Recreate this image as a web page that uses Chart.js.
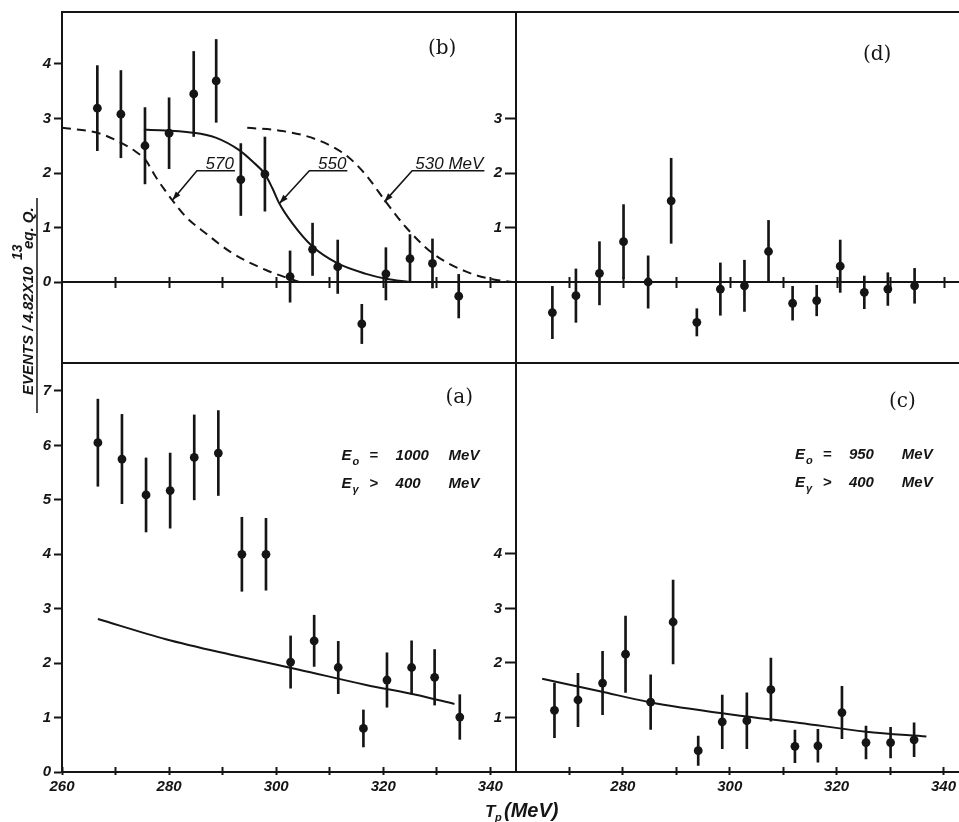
<!DOCTYPE html>
<html>
<head>
<meta charset="UTF-8">
<title>T_p spectra</title>
<script src="https://cdn.jsdelivr.net/npm/chart.js@4.4.4/dist/chart.umd.min.js"></script>
<style>
body { margin: 0; background: #fff; }
#wrap { position: relative; width: 959px; height: 822px; }
#wrap canvas { position: absolute; left: 0; top: 0; }
</style>
</head>
<body>
<div id="wrap">
  <canvas id="chartB" width="959" height="822"></canvas>
  <canvas id="chartD" width="959" height="822"></canvas>
  <canvas id="chartA" width="959" height="822"></canvas>
  <canvas id="chartC" width="959" height="822"></canvas>
</div>
<script>
// ---- data ----
// (b) top left
const tpB  = [266.6, 271.0, 275.5, 280.0, 284.6, 288.8, 293.4, 297.9, 302.6, 306.8, 311.5, 316.0, 320.5, 325.0, 329.2, 334.1];
const evB  = [3.19, 3.08, 2.50, 2.73, 3.45, 3.69, 1.88, 1.98, 0.10, 0.60, 0.28, -0.77, 0.15, 0.43, 0.34, -0.26];
const errB = [0.78, 0.80, 0.70, 0.65, 0.78, 0.76, 0.66, 0.68, 0.47, 0.48, 0.49, 0.36, 0.48, 0.44, 0.45, 0.40];
// (d) top right
const tpD  = [266.8, 271.2, 275.6, 280.1, 284.7, 289.0, 293.8, 298.2, 302.7, 307.2, 311.7, 316.2, 320.6, 325.1, 329.5, 334.5];
const evD  = [-0.56, -0.25, 0.16, 0.74, 0.00, 1.49, -0.74, -0.13, -0.07, 0.56, -0.39, -0.34, 0.29, -0.19, -0.13, -0.07];
const errD = [0.48, 0.49, 0.58, 0.68, 0.48, 0.78, 0.25, 0.48, 0.47, 0.57, 0.31, 0.28, 0.48, 0.30, 0.30, 0.32];
// (a) bottom left
const tpA  = [266.7, 271.2, 275.7, 280.2, 284.7, 289.2, 293.6, 298.1, 302.7, 307.1, 311.6, 316.3, 320.7, 325.3, 329.6, 334.3];
const evA  = [6.05, 5.75, 5.09, 5.17, 5.78, 5.86, 4.00, 4.00, 2.02, 2.41, 1.92, 0.80, 1.69, 1.92, 1.74, 1.01];
const errA = [0.80, 0.82, 0.68, 0.69, 0.78, 0.78, 0.68, 0.66, 0.48, 0.47, 0.48, 0.34, 0.50, 0.49, 0.51, 0.41];
// (c) bottom right
const tpC  = [267.2, 271.6, 276.2, 280.5, 285.2, 289.4, 294.1, 298.6, 303.2, 307.7, 312.2, 316.5, 321.0, 325.5, 330.1, 334.5];
const evC  = [1.13, 1.32, 1.63, 2.16, 1.28, 2.75, 0.39, 0.92, 0.94, 1.51, 0.47, 0.48, 1.09, 0.54, 0.54, 0.59];
const errC = [0.50, 0.49, 0.58, 0.70, 0.50, 0.77, 0.27, 0.49, 0.51, 0.58, 0.30, 0.30, 0.48, 0.30, 0.28, 0.31];

// calculated curves
const c570T = [260.0, 266.9, 270.7, 273.8, 275.6, 277.5, 279.4, 280.6, 283.1, 286.9, 291.8, 298.1, 304.3];
const c570V = [2.83, 2.73, 2.57, 2.39, 2.24, 1.93, 1.66, 1.50, 1.20, 0.89, 0.53, 0.22, 0.00];
const c550T = [275.3, 284.4, 288.7, 293.1, 295.6, 297.9, 299.3, 300.6, 303.0, 306.8, 311.5, 316.8, 320.5, 324.9];
const c550V = [2.80, 2.74, 2.65, 2.42, 2.21, 1.98, 1.72, 1.44, 1.08, 0.65, 0.34, 0.15, 0.06, 0.00];
const c530T = [294.6, 301.2, 307.4, 313.0, 316.8, 320.5, 324.2, 329.2, 335.5, 340.4, 344.2];
const c530V = [2.83, 2.77, 2.62, 2.33, 1.96, 1.47, 1.01, 0.53, 0.19, 0.05, 0.00];
const curveAT = [266.7, 279.4, 291.8, 304.3, 316.8, 326.1, 333.3];
const curveAV = [2.81, 2.44, 2.15, 1.88, 1.60, 1.42, 1.25];
const curveCT = [264.9, 275.7, 285.0, 300.6, 313.1, 325.5, 336.8];
const curveCV = [1.71, 1.48, 1.28, 1.05, 0.90, 0.74, 0.65];

// ticks
const xTicksLeft  = [260, 270, 280, 290, 300, 310, 320, 330, 340];
const xTicksRight = [270, 280, 290, 300, 310, 320, 330, 340];
const yTicksB = [0, 1, 2, 3, 4];
const yTicksD = [1, 2, 3];
const yTicksA = [0, 1, 2, 3, 4, 5, 6, 7];
const yTicksC = [1, 2, 3, 4];

// curve tags in (b): label, underline from x0 to x1 at y, arrow tip
const curveTags = [
  { label: '570',     x0: 285.2, x1: 292.3, y: 2.04, tipX: 280.6, tipY: 1.50 },
  { label: '550',     x0: 306.2, x1: 313.3, y: 2.04, tipX: 300.6, tipY: 1.44 },
  { label: '530 MeV', x0: 325.4, x1: 338.9, y: 2.04, tipX: 320.2, tipY: 1.47 }
];

const INK = '#151515';
const tickFont = { family: 'Liberation Sans', size: 15, style: 'italic', weight: 'bold' };

function pts(xs, ys) { return xs.map((x, i) => ({ x: x, y: ys[i] })); }
function bars(xs, ys, es) { return xs.map((x, i) => ({ x: x, y: [ys[i] - es[i], ys[i] + es[i]] })); }

function dataSets(xs, ys, es, curves) {
  const ds = [
    { type: 'bar', data: bars(xs, ys, es), backgroundColor: INK, barThickness: 2, order: 3 },
    { type: 'scatter', data: pts(xs, ys), backgroundColor: INK, borderWidth: 0, pointRadius: 4.4, order: 1 }
  ];
  curves.forEach(c => {
    ds.push({ type: 'scatter', data: pts(c.t, c.v), showLine: true, pointRadius: 0, borderColor: INK,
      borderWidth: 2, borderDash: c.dash || [], cubicInterpolationMode: 'monotone', order: 2 });
  });
  return ds;
}

function fixTicks(vals) {
  return s => { s.ticks = vals.map(v => ({ value: v })); };
}

function txt(ctx, s, x, y, font, align) {
  ctx.font = font;
  ctx.textAlign = align || 'left';
  ctx.textBaseline = 'alphabetic';
  ctx.fillText(s, x, y);
}

function frame(top, bottom) {
  return {
    id: 'frame',
    afterDraw(chart) {
      const { ctx, chartArea } = chart;
      ctx.save();
      ctx.strokeStyle = INK;
      ctx.lineWidth = 2;
      ctx.beginPath();
      if (top) { ctx.moveTo(chartArea.left - 1, chartArea.top); ctx.lineTo(chartArea.right, chartArea.top); }
      if (bottom) { ctx.moveTo(chartArea.left - 1, chartArea.bottom); ctx.lineTo(chartArea.right, chartArea.bottom); }
      ctx.stroke();
      ctx.restore();
    }
  };
}

function notes(fn) {
  return { id: 'notes', afterDraw(chart) { const ctx = chart.ctx; ctx.save(); ctx.fillStyle = INK; ctx.strokeStyle = INK; fn(chart, ctx); ctx.restore(); } };
}

function panelLabel(chart, ctx, s, x, y) {
  ctx.font = '20px "DejaVu Serif"';
  ctx.textAlign = 'center';
  ctx.textBaseline = 'middle';
  ctx.fillText(s, chart.scales.x.getPixelForValue(x), chart.scales.y.getPixelForValue(y));
}

function energyBlock(chart, ctx, e0, eg) {
  const X = v => chart.scales.x.getPixelForValue(v);
  const Y = v => chart.scales.y.getPixelForValue(v);
  const f = 'italic bold 15px "Liberation Sans"';
  const fs = 'italic bold 11px "Liberation Sans"';
  const rows = [{ y: 5.74, sub: 'o', op: '=', num: e0 }, { y: 5.22, sub: '\u03B3', op: '>', num: eg }];
  rows.forEach(r => {
    const b = Y(r.y);
    txt(ctx, 'E', X(312.2), b, f);
    txt(ctx, r.sub, X(312.2) + 11, b + 5, fs);
    txt(ctx, r.op, X(317.4), b, f);
    txt(ctx, r.num, X(322.3), b, f);
    txt(ctx, 'MeV', X(332.2), b, f);
  });
}

function xScale(max, ticks, opts) {
  return Object.assign({
    type: 'linear', min: 260, max: max, offset: false,
    afterBuildTicks: fixTicks(ticks),
    border: { color: INK, width: 2 },
    grid: { drawOnChartArea: false, offset: false, tickColor: INK, tickWidth: 2, tickLength: 5 },
    ticks: { display: false }
  }, opts);
}

// second axis on the same line, only for the inner half of the tick marks
function xInner(max, ticks, position) {
  return xScale(max, ticks, {
    axis: 'x', position: position, border: { display: false },
    afterFit: s => { s.height = 0; },
    grid: { drawOnChartArea: false, offset: false, tickColor: INK, tickWidth: 2, tickLength: -5 }
  });
}

function yScale(min, max, ticks, width) {
  return {
    type: 'linear', min: min, max: max,
    afterBuildTicks: fixTicks(ticks),
    afterFit: s => { s.width = width; },
    border: { color: INK, width: 2 },
    grid: { drawOnChartArea: false, tickColor: INK, tickWidth: 2, tickLength: width > 61 ? 8 : 11 },
    ticks: { color: INK, font: tickFont, padding: 3, callback: v => String(v) }
  };
}

function baseOptions(padding, scales) {
  return {
    responsive: false, animation: false, devicePixelRatio: 1, events: [],
    layout: { padding: padding, autoPadding: false },
    plugins: { legend: { display: false }, tooltip: { enabled: false } },
    scales: scales
  };
}

const labelEvery20 = (skip) => (v) => (v % 20 === 0 && v !== skip) ? String(v) : '';

function xBottom(max, ticks, skip) {
  return xScale(max, ticks, {
    position: 'bottom',
    afterFit: s => { s.height = 30; },
    grid: { drawOnChartArea: false, offset: false, tickColor: INK, tickWidth: 2, tickLength: 3 },
    ticks: { display: true, color: INK, font: tickFont, padding: 3, maxRotation: 0, autoSkip: false, callback: labelEvery20(skip) }
  });
}

// ---- (b) top left ----
new Chart(document.getElementById('chartB'), {
  type: 'scatter',
  data: { datasets: dataSets(tpB, evB, errB, [
    { t: c570T, v: c570V, dash: [9, 6] },
    { t: c550T, v: c550V },
    { t: c530T, v: c530V, dash: [9, 6] }
  ]) },
  options: baseOptions({ left: 0, top: 12, right: 443, bottom: 459 }, {
    x: xScale(344.8, xTicksLeft.slice(1), { position: { y: 0 } }),
    xUp: xInner(344.8, xTicksLeft.slice(1), { y: 0 }),
    y: yScale(-1.486, 4.954, yTicksB, 62)
  }),
  plugins: [frame(true, true), notes((chart, ctx) => {
    const X = v => chart.scales.x.getPixelForValue(v);
    const Y = v => chart.scales.y.getPixelForValue(v);
    panelLabel(chart, ctx, '(b)', 331.0, 4.27);
    ctx.lineWidth = 1.6;
    curveTags.forEach(t => {
      const x0 = X(t.x0), x1 = X(t.x1), y0 = Y(t.y), tx = X(t.tipX), ty = Y(t.tipY);
      txt(ctx, t.label, x1 - 1, y0 - 2, 'italic 17px "Liberation Sans"', 'right');
      ctx.beginPath();
      ctx.moveTo(x1, y0); ctx.lineTo(x0, y0); ctx.lineTo(tx, ty);
      ctx.stroke();
      const a = Math.atan2(ty - y0, tx - x0);
      ctx.beginPath();
      ctx.moveTo(tx, ty);
      ctx.lineTo(tx - 9 * Math.cos(a) + 3 * Math.sin(a), ty - 9 * Math.sin(a) - 3 * Math.cos(a));
      ctx.lineTo(tx - 9 * Math.cos(a) - 3 * Math.sin(a), ty - 9 * Math.sin(a) + 3 * Math.cos(a));
      ctx.closePath();
      ctx.fill();
    });
    // y axis title, rotated
    ctx.save();
    ctx.translate(33, 395);
    ctx.rotate(-Math.PI / 2);
    txt(ctx, 'EVENTS / 4.82X10', 0, 0, 'italic bold 15px "Liberation Sans"');
    txt(ctx, '13', 135, -11, 'italic bold 14px "Liberation Sans"');
    txt(ctx, 'eq. Q.', 146, 0, 'italic bold 15px "Liberation Sans"');
    ctx.lineWidth = 1.5;
    ctx.beginPath();
    ctx.moveTo(-18, 4); ctx.lineTo(197, 4);
    ctx.stroke();
    ctx.restore();
  })]
});

// ---- (d) top right ----
new Chart(document.getElementById('chartD'), {
  type: 'scatter',
  data: { datasets: dataSets(tpD, evD, errD, []) },
  options: baseOptions({ left: 456, top: 12, right: 0, bottom: 459 }, {
    x: xScale(342.8, xTicksRight, { position: { y: 0 } }),
    xUp: xInner(342.8, xTicksRight, { y: 0 }),
    y: yScale(-1.486, 4.954, yTicksD, 60)
  }),
  plugins: [frame(true, true), notes((chart, ctx) => {
    panelLabel(chart, ctx, '(d)', 327.5, 4.17);
  })]
});

// ---- (a) bottom left ----
new Chart(document.getElementById('chartA'), {
  type: 'scatter',
  data: { datasets: dataSets(tpA, evA, errA, [{ t: curveAT, v: curveAV }]) },
  options: baseOptions({ left: 0, top: 364, right: 443, bottom: 20 }, {
    x: xBottom(344.8, xTicksLeft, null),
    xUp: xInner(344.8, xTicksLeft, { y: 0 }),
    y: yScale(0, 7.496, yTicksA, 62)
  }),
  plugins: [notes((chart, ctx) => {
    panelLabel(chart, ctx, '(a)', 334.2, 6.88);
    energyBlock(chart, ctx, '1000', '400');
    // x axis title
    txt(ctx, 'T', 485, 817, 'italic bold 17px "Liberation Sans"');
    txt(ctx, 'p', 495, 821, 'italic bold 11px "Liberation Sans"');
    txt(ctx, '(MeV)', 504, 817, 'italic bold 20px "Liberation Sans"');
  })]
});

// ---- (c) bottom right ----
new Chart(document.getElementById('chartC'), {
  type: 'scatter',
  data: { datasets: dataSets(tpC, evC, errC, [{ t: curveCT, v: curveCV }]) },
  options: baseOptions({ left: 456, top: 364, right: 0, bottom: 20 }, {
    x: xBottom(342.8, xTicksRight, 260),
    xUp: xInner(342.8, xTicksRight, { y: 0 }),
    y: yScale(0, 7.48, yTicksC, 60)
  }),
  plugins: [notes((chart, ctx) => {
    panelLabel(chart, ctx, '(c)', 332.3, 6.78);
    energyBlock(chart, ctx, '950', '400');
  })]
});
</script>
</body>
</html>
